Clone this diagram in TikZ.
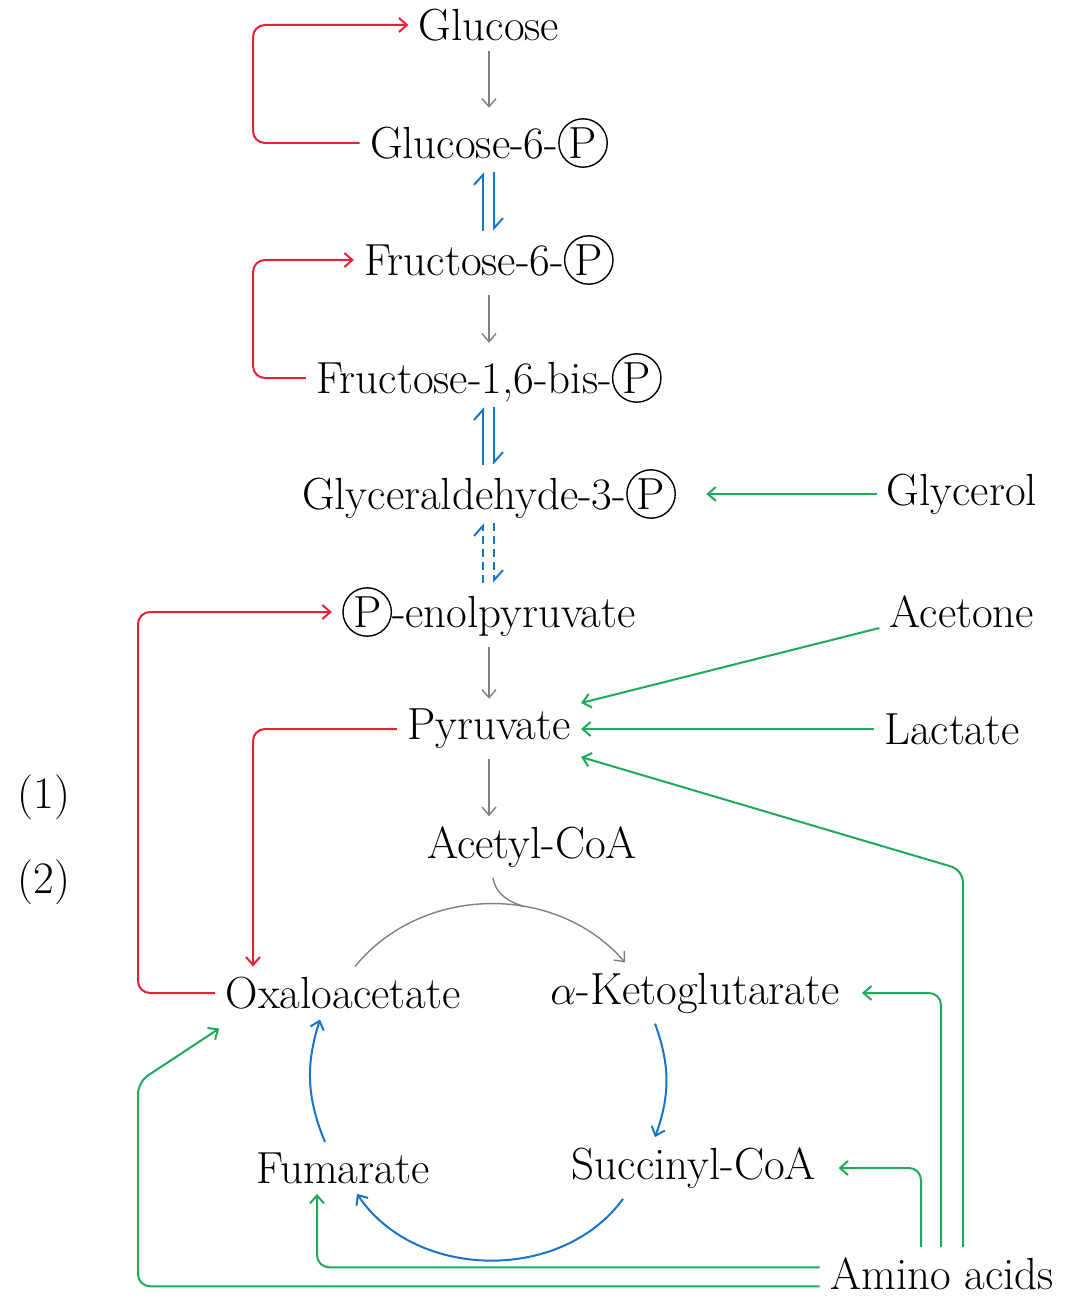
\documentclass[tikz,border=0pt]{standalone}
\usepackage{tikz}
\usetikzlibrary{arrows.meta}

\definecolor{gluRed}{RGB}{232,32,56}
\definecolor{gluGreen}{RGB}{30,170,90}
\definecolor{gluBlue}{RGB}{24,116,196}
\newcommand{\phos}{\tikz[baseline=(p.base)]\node[draw,circle,inner sep=1.2pt,line width=0.7pt](p){P};}

\begin{document}
\begin{tikzpicture}[x=0.5pt,y=-0.5pt,
        metab/.style={inner sep=5pt, font=\fontsize{22.5}{27}\selectfont},
        grayarr/.style={draw=gray, line width=0.7pt, -{Straight Barb[length=4pt,width=7pt]}},
        redarr/.style={draw=gluRed, line width=1pt, rounded corners=6pt, -{Straight Barb[length=4pt,width=7pt]}},
        greenarr/.style={draw=gluGreen, line width=1pt, rounded corners=6pt, -{Straight Barb[length=4pt,width=7pt]}},
        bluearr/.style={draw=gluBlue, line width=1pt, -{Straight Barb[length=4pt,width=7pt]}},
        harp/.style={draw=gluBlue, line width=1pt, shorten <=-3pt, shorten >=-3pt, -{Straight Barb[left,length=5pt,width=9pt]}}]
        \useasboundingbox (0,0) rectangle (1076,1299);

        % main chain
        \node[metab] (glc) at (489,25) {Glucose};
        \node[metab] (g6p) at (489,143) {Glucose-6-\phos};
        \node[metab] (f6p) at (489,260) {Fructose-6-\phos};
        \node[metab] (fbp) at (489,378) {Fructose-1,6-bis-\phos};
        \node[metab] (gap) at (489,494) {Glyceraldehyde-3-\phos};
        \node[metab] (pep) at (489,612) {\phos-enolpyruvate};
        \node[metab] (pyr) at (489,729) {Pyruvate};
        \node[metab] (acoa) at (532,847) {Acetyl-CoA};

        % cycle
        \node[metab] (oaa) at (343,993) {Oxaloacetate};
        \node[metab] (akg) at (695,993) {$\alpha$-Ketoglutarate};
        \node[metab] (fum) at (343,1168) {Fumarate};
        \node[metab] (scoa) at (694,1168) {Succinyl-CoA};

        % side sources
        \node[metab] (glyc) at (962,494) {Glycerol};
        \node[metab] (acet) at (962,612) {Acetone};
        \node[metab] (lac) at (952,729) {Lactate};
        \node[metab, anchor=base] (aa) at (942,1289) {Amino acids};
        \node[metab] (n1) at (44,797) {(1)};
        \node[metab] (n2) at (44,882) {(2)};

        \coordinate (rA) at (253,0);
        \coordinate (rB) at (138,0);
        \coordinate (aaR) at (963,870);
        \coordinate (aaM) at (941,0);
        \coordinate (aaL) at (921,0);
        \coordinate (gB) at (138,1082);

        \draw[grayarr] (glc) -- (g6p);
        \draw[grayarr] (f6p) -- (fbp);
        \draw[grayarr] (pep) -- (pyr);
        \draw[grayarr] (pyr) -- (pyr |- acoa.north);

        \draw[harp] ([xshift=-3pt]f6p.north) -- ([xshift=-3pt]g6p.south);
        \draw[harp] ([xshift=2.5pt]g6p.south) -- ([xshift=2.5pt]f6p.north);
        \draw[harp] ([xshift=-3pt]gap.north) -- ([xshift=-3pt]fbp.south);
        \draw[harp] ([xshift=2.5pt]fbp.south) -- ([xshift=2.5pt]gap.north);
        \draw[harp, dash pattern=on 4pt off 2.5pt] ([xshift=-3pt]pep.north) -- ([xshift=-3pt]gap.south);
        \draw[harp, dash pattern=on 4pt off 2.5pt] ([xshift=2.5pt]gap.south) -- ([xshift=2.5pt]pep.north);

        \draw[redarr] (g6p.west) -| (rA |- glc.west) -- (glc.west);
        \draw[redarr] (fbp.west) -| (rA |- f6p.west) -- (f6p.west);
        \draw[redarr] (oaa.west) -| (rB |- pep.west) -- (pep.west);
        \draw[redarr] (pyr.west) -| (rA |- oaa.north);

        \draw[greenarr, shorten >=10pt] (glyc) -- (gap);
        \draw[greenarr] ([yshift=-8pt]acet.west) -- ([yshift=13pt]pyr.east);
        \draw[greenarr] (lac) -- (pyr);
        \draw[greenarr] (aa.north -| aaR) -- (aaR) -- ([yshift=-14pt]pyr.east);
        \draw[greenarr, shorten >=6pt] (aa.north -| aaM) |- (akg.east);
        \draw[greenarr, shorten >=6pt] (aa.north -| aaL) |- (scoa.east);
        \draw[greenarr] ([yshift=3pt]aa.west) -| ([xshift=-13pt]fum.south);
        \draw[greenarr] ([yshift=-6.5pt]aa.west) -| (gB) -- ([xshift=2pt,yshift=-4.5pt]oaa.south west);

        \draw[bluearr] ([xshift=-20pt]akg.south) to[bend left=20] ([xshift=-19.5pt]scoa.north);
        \draw[bluearr] ([xshift=-35.5pt]scoa.south) to[bend left=55] ([xshift=7pt]fum.south);
        \draw[bluearr] ([xshift=-9pt]fum.north) to[bend left=20] ([xshift=-11.5pt]oaa.south);

        \draw[grayarr] ([xshift=6pt]oaa.north) to[bend left=50] coordinate[pos=0.62] (mrg) ([xshift=-35pt]akg.north);
        \draw[draw=gray, line width=0.7pt] ([xshift=-19.5pt]acoa.south) to[out=-80,in=165] (mrg);
\end{tikzpicture}
\end{document}
